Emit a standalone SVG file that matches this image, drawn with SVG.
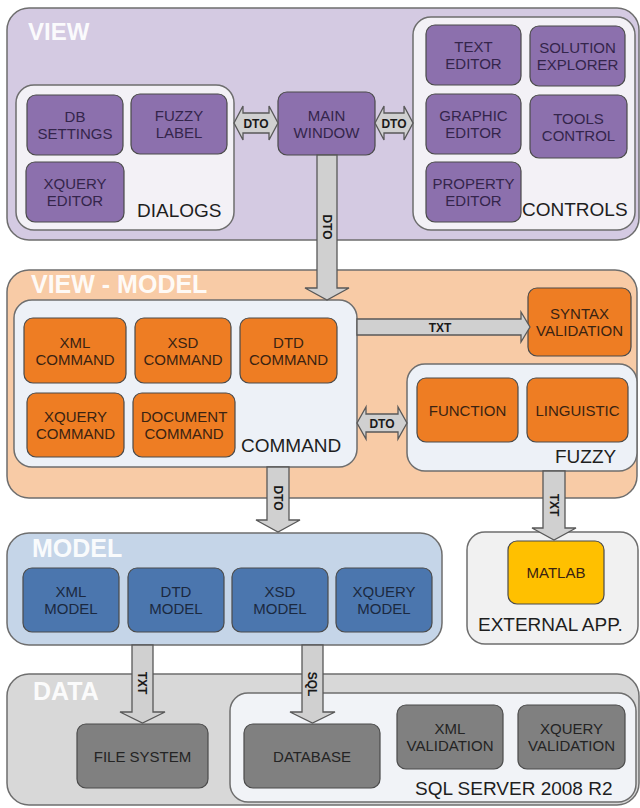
<svg xmlns="http://www.w3.org/2000/svg" width="640" height="808" viewBox="0 0 640 808">
<style>
text{font-family:"Liberation Sans",Arial,sans-serif}
.panel{stroke:#6e6e6e;stroke-width:1.5}
.ptitle{font-size:25px;font-weight:bold;fill:#ffffff;fill-opacity:0.92}
.cont{stroke:#6e6e6e;stroke-width:1.5}
.clabel{font-size:19px;fill:#1e1e1e}
.node{stroke:#4a4a4a;stroke-width:1.2}
.nt{font-size:15px;text-anchor:middle}
.purple{fill:#8c70ad}
.orange{fill:#ee7d23}
.blue{fill:#4b76ae}
.gray{fill:#808080}
.yellow{fill:#ffc000}
.tp{fill:#34254b}
.to{fill:#3a2312}
.tb{fill:#1b2940}
.tg{fill:#242424}
.arrow{fill:#d0d0d0;stroke:#585858;stroke-width:1.3;stroke-linejoin:miter}
.al{font-size:12px;font-weight:bold;fill:#1a1a1a;text-anchor:middle}
</style>

<!-- Panels -->
<g id="view">
<rect class="panel" x="7" y="8" width="632" height="232" rx="22" fill="#d4cae2"/>
<text class="ptitle" x="28" y="40" style="font-size:24px">VIEW</text>
</g>
<g id="view-model">
<rect class="panel" x="7" y="270" width="630" height="228" rx="22" fill="#f8cba6"/>
<text class="ptitle" x="31" y="293">VIEW - MODEL</text>
</g>
<g id="model">
<rect class="panel" x="7" y="533" width="435" height="112" rx="22" fill="#c5d5e8"/>
<text class="ptitle" x="32" y="557">MODEL</text>
</g>
<g id="data">
<rect class="panel" x="7" y="674" width="632" height="131" rx="22" fill="#d8d8d8"/>
<text class="ptitle" x="33" y="700">DATA</text>
</g>

<!-- Containers -->
<g id="dialogs">
<rect class="cont" x="16" y="85" width="218" height="145" rx="18" fill="#f3f1f6"/>
<text class="clabel" x="137" y="217">DIALOGS</text>
</g>
<g id="controls">
<rect class="cont" x="413" y="17" width="222" height="213" rx="18" fill="#f3f1f6"/>
<text class="clabel" x="522" y="216">CONTROLS</text>
</g>
<g id="command">
<rect class="cont" x="14" y="300" width="343" height="167" rx="18" fill="#edf1f7"/>
<text class="clabel" x="241" y="452">COMMAND</text>
</g>
<g id="fuzzy">
<rect class="cont" x="407" y="364" width="230" height="107" rx="18" fill="#edf1f7"/>
<text class="clabel" x="555" y="463">FUZZY</text>
</g>
<g id="external-app">
<rect class="cont" x="467" y="532" width="171" height="112" rx="18" fill="#f1f1f1"/>
<text class="clabel" x="478" y="631">EXTERNAL APP.</text>
</g>
<g id="sql-server">
<rect class="cont" x="230" y="693" width="406" height="109" rx="18" fill="#f1f3f7"/>
<text class="clabel" x="415" y="795">SQL SERVER 2008 R2</text>
</g>

<!-- VIEW nodes -->
<g id="db-settings">
<rect class="node purple" x="27" y="95" width="96" height="60" rx="9"/>
<text class="nt tp" x="75" y="122">DB</text><text class="nt tp" x="75" y="139">SETTINGS</text>
</g>
<g id="fuzzy-label">
<rect class="node purple" x="131" y="94" width="96" height="60" rx="9"/>
<text class="nt tp" x="179" y="121">FUZZY</text><text class="nt tp" x="179" y="138">LABEL</text>
</g>
<g id="xquery-editor">
<rect class="node purple" x="26" y="162" width="98" height="60" rx="9"/>
<text class="nt tp" x="75" y="189">XQUERY</text><text class="nt tp" x="75" y="206">EDITOR</text>
</g>
<g id="main-window">
<rect class="node purple" x="278" y="92" width="97" height="63" rx="9"/>
<text class="nt tp" x="326.5" y="120.5">MAIN</text><text class="nt tp" x="326.5" y="137.5">WINDOW</text>
</g>
<g id="text-editor">
<rect class="node purple" x="426" y="25" width="95" height="60" rx="9"/>
<text class="nt tp" x="473.5" y="52">TEXT</text><text class="nt tp" x="473.5" y="69">EDITOR</text>
</g>
<g id="solution-explorer">
<rect class="node purple" x="530" y="26" width="95" height="60" rx="9"/>
<text class="nt tp" x="577.5" y="53">SOLUTION</text><text class="nt tp" x="577.5" y="70">EXPLORER</text>
</g>
<g id="graphic-editor">
<rect class="node purple" x="426" y="94" width="95" height="60" rx="9"/>
<text class="nt tp" x="473.5" y="121">GRAPHIC</text><text class="nt tp" x="473.5" y="138">EDITOR</text>
</g>
<g id="tools-control">
<rect class="node purple" x="530" y="95" width="97" height="63" rx="9"/>
<text class="nt tp" x="578.5" y="123.5">TOOLS</text><text class="nt tp" x="578.5" y="140.5">CONTROL</text>
</g>
<g id="property-editor">
<rect class="node purple" x="426" y="162" width="95" height="60" rx="9"/>
<text class="nt tp" x="473.5" y="189">PROPERTY</text><text class="nt tp" x="473.5" y="206">EDITOR</text>
</g>

<!-- VIEW-MODEL nodes -->
<g id="xml-command">
<rect class="node orange" x="24" y="318" width="102" height="65" rx="9"/>
<text class="nt to" x="75" y="347.5">XML</text><text class="nt to" x="75" y="364.5">COMMAND</text>
</g>
<g id="xsd-command">
<rect class="node orange" x="135" y="318" width="96" height="65" rx="9"/>
<text class="nt to" x="183" y="347.5">XSD</text><text class="nt to" x="183" y="364.5">COMMAND</text>
</g>
<g id="dtd-command">
<rect class="node orange" x="240" y="318" width="97" height="65" rx="9"/>
<text class="nt to" x="288.5" y="347.5">DTD</text><text class="nt to" x="288.5" y="364.5">COMMAND</text>
</g>
<g id="xquery-command">
<rect class="node orange" x="27" y="393" width="97" height="64" rx="9"/>
<text class="nt to" x="75.5" y="422">XQUERY</text><text class="nt to" x="75.5" y="439">COMMAND</text>
</g>
<g id="document-command">
<rect class="node orange" x="133" y="393" width="102" height="64" rx="9"/>
<text class="nt to" x="184" y="422">DOCUMENT</text><text class="nt to" x="184" y="439">COMMAND</text>
</g>
<g id="syntax-validation">
<rect class="node orange" x="528" y="288" width="103" height="68" rx="9"/>
<text class="nt to" x="579.5" y="319">SYNTAX</text><text class="nt to" x="579.5" y="336">VALIDATION</text>
</g>
<g id="function">
<rect class="node orange" x="417" y="378" width="101" height="64" rx="9"/>
<text class="nt to" x="467.5" y="415.5">FUNCTION</text>
</g>
<g id="linguistic">
<rect class="node orange" x="527" y="378" width="101" height="64" rx="9"/>
<text class="nt to" x="577.5" y="415.5">LINGUISTIC</text>
</g>

<!-- MODEL nodes -->
<g id="xml-model">
<rect class="node blue" x="23" y="568" width="96" height="64" rx="9"/>
<text class="nt tb" x="71" y="597">XML</text><text class="nt tb" x="71" y="614">MODEL</text>
</g>
<g id="dtd-model">
<rect class="node blue" x="128" y="568" width="96" height="64" rx="9"/>
<text class="nt tb" x="176" y="597">DTD</text><text class="nt tb" x="176" y="614">MODEL</text>
</g>
<g id="xsd-model">
<rect class="node blue" x="232" y="568" width="96" height="64" rx="9"/>
<text class="nt tb" x="280" y="597">XSD</text><text class="nt tb" x="280" y="614">MODEL</text>
</g>
<g id="xquery-model">
<rect class="node blue" x="336" y="568" width="96" height="64" rx="9"/>
<text class="nt tb" x="384" y="597">XQUERY</text><text class="nt tb" x="384" y="614">MODEL</text>
</g>
<g id="matlab">
<rect class="node yellow" x="508" y="541" width="96" height="63" rx="9"/>
<text class="nt to" x="556" y="578">MATLAB</text>
</g>

<!-- DATA nodes -->
<g id="file-system">
<rect class="node gray" x="77" y="724" width="131" height="64" rx="9"/>
<text class="nt tg" x="142.5" y="761.5">FILE SYSTEM</text>
</g>
<g id="database">
<rect class="node gray" x="244" y="724" width="136" height="64" rx="9"/>
<text class="nt tg" x="312" y="761.5">DATABASE</text>
</g>
<g id="xml-validation">
<rect class="node gray" x="397" y="705" width="106" height="64" rx="9"/>
<text class="nt tg" x="450" y="734">XML</text><text class="nt tg" x="450" y="751">VALIDATION</text>
</g>
<g id="xquery-validation">
<rect class="node gray" x="518" y="705" width="107" height="64" rx="9"/>
<text class="nt tg" x="571.5" y="734">XQUERY</text><text class="nt tg" x="571.5" y="751">VALIDATION</text>
</g>

<!-- Connectors -->
<g id="connectors">
<!-- Dialogs <-> Main window -->
<polygon class="arrow" points="234,123 243,106 243,113 269,113 269,106 278,123 269,140 269,133 243,133 243,140"/>
<text class="al" x="256" y="127.5">DTO</text>
<!-- Main window <-> Controls -->
<polygon class="arrow" points="375,123 384,106 384,113 404,113 404,106 413,123 404,140 404,133 384,133 384,140"/>
<text class="al" x="394" y="127.5">DTO</text>
<!-- Main window -> Command -->
<polygon class="arrow" points="317,155 337,155 337,288 349,288 327,300 305,288 317,288"/>
<text class="al" transform="translate(327,227) rotate(90)" x="0" y="4.3">DTO</text>
<!-- Command -> Syntax validation -->
<polygon class="arrow" points="357,319 521,319 521,312 530,327 521,342 521,335 357,335"/>
<text class="al" x="440" y="331.5">TXT</text>
<!-- Command <-> Fuzzy -->
<polygon class="arrow" points="357,423 366,407 366,414 398,414 398,407 407,423 398,439 398,432 366,432 366,439"/>
<text class="al" x="382" y="427.5">DTO</text>
<!-- Command -> Model -->
<polygon class="arrow" points="267,467 289,467 289,520 300,520 278,532 256,520 267,520"/>
<text class="al" transform="translate(278,498) rotate(90)" x="0" y="4.3">DTO</text>
<!-- Fuzzy -> Matlab -->
<polygon class="arrow" points="543,471 565,471 565,528 576,528 554,540 532,528 543,528"/>
<text class="al" transform="translate(554,505) rotate(90)" x="0" y="4.3">TXT</text>
<!-- Model -> File system -->
<polygon class="arrow" points="132,645 153,645 153,712 165,712 142.5,723 120,712 132,712"/>
<text class="al" transform="translate(142.5,683) rotate(90)" x="0" y="4.3">TXT</text>
<!-- Model -> Database -->
<polygon class="arrow" points="302,645 323,645 323,712 335,712 312.5,723 290,712 302,712"/>
<text class="al" transform="translate(312.5,684) rotate(90)" x="0" y="4.3">SQL</text>
</g>
</svg>
